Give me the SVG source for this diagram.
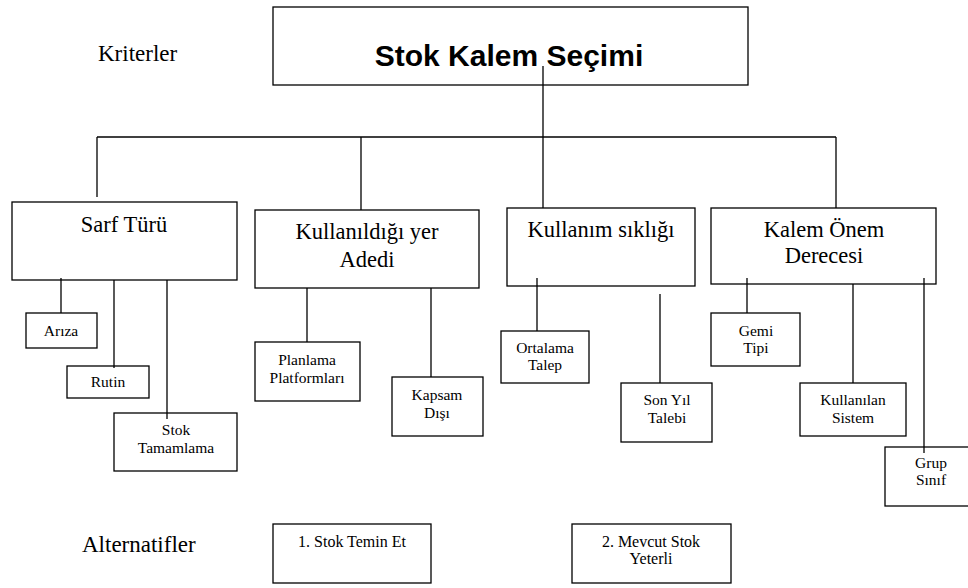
<svg xmlns="http://www.w3.org/2000/svg" width="968" height="588" viewBox="0 0 968 588">
<style>
rect{fill:#fff;stroke:#000;stroke-width:1.3}
line{stroke:#000;stroke-width:1.3}
text{fill:#000;text-anchor:middle;font-family:"Liberation Serif",serif}
.big{font-size:22.5px}
.sm{font-size:15.5px}
.alt{font-size:16px}
.lab{font-size:23px;text-anchor:start}
.title{font-weight:bold;font-size:30px;font-family:"Liberation Sans",sans-serif}
</style>
<rect x="0" y="0" width="968" height="588" style="stroke:none"/>
<text class="lab" x="98" y="61">Kriterler</text>
<text class="lab" x="82" y="552">Alternatifler</text>
<g id="root"><rect x="273" y="7" width="475" height="78"/><text class="title" x="509" y="66">Stok Kalem Seçimi</text></g>
<g id="sarf"><rect x="12" y="202" width="225" height="78"/><text class="big" x="124" y="232">Sarf Türü</text></g>
<g id="kyer"><rect x="255" y="210" width="224" height="78"/><text class="big" x="367" y="239">Kullanıldığı yer</text><text class="big" x="367" y="267">Adedi</text></g>
<g id="ksik"><rect x="507" y="208" width="188" height="78"/><text class="big" x="601" y="237">Kullanım sıklığı</text></g>
<g id="konem"><rect x="711" y="208" width="225" height="76"/><text class="big" x="824" y="237">Kalem Önem</text><text class="big" x="824" y="263">Derecesi</text></g>
<g id="ariza"><rect x="26" y="313" width="71" height="35"/><text class="sm" x="61" y="336">Arıza</text></g>
<g id="rutin"><rect x="67" y="366" width="82" height="32"/><text class="sm" x="108" y="387">Rutin</text></g>
<g id="stoktam"><rect x="114" y="413" width="123" height="58"/><text class="sm" x="176" y="435">Stok</text><text class="sm" x="176" y="453">Tamamlama</text></g>
<g id="plan"><rect x="255" y="342" width="105" height="59"/><text class="sm" x="307" y="365">Planlama</text><text class="sm" x="307" y="383">Platformları</text></g>
<g id="kapsam"><rect x="392" y="377" width="91" height="59"/><text class="sm" x="437" y="400">Kapsam</text><text class="sm" x="437" y="418">Dışı</text></g>
<g id="ort"><rect x="501" y="331" width="88" height="52"/><text class="sm" x="545" y="353">Ortalama</text><text class="sm" x="545" y="370">Talep</text></g>
<g id="sonyil"><rect x="621" y="383" width="91" height="59"/><text class="sm" x="667" y="405">Son Yıl</text><text class="sm" x="667" y="423">Talebi</text></g>
<g id="gemi"><rect x="711" y="313" width="89" height="53"/><text class="sm" x="756" y="336">Gemi</text><text class="sm" x="756" y="353">Tipi</text></g>
<g id="sistem"><rect x="800" y="383" width="106" height="53"/><text class="sm" x="853" y="405">Kullanılan</text><text class="sm" x="853" y="423">Sistem</text></g>
<g id="grup"><rect x="885" y="447" width="90" height="59"/><text class="sm" x="931" y="468">Grup</text><text class="sm" x="931" y="485">Sınıf</text></g>
<g id="alt1"><rect x="273" y="524" width="158" height="59"/><text class="alt" x="352" y="547">1. Stok Temin Et</text></g>
<g id="alt2"><rect x="572" y="524" width="159" height="59"/><text class="alt" x="651" y="547">2. Mevcut Stok</text><text class="alt" x="651" y="564">Yeterli</text></g>
<g id="connectors">
<line x1="543" y1="66" x2="543" y2="208"/>
<line x1="97" y1="137" x2="836" y2="137"/>
<line x1="97" y1="137" x2="97" y2="197"/>
<line x1="361" y1="137" x2="361" y2="210"/>
<line x1="836" y1="137" x2="836" y2="208"/>
<line x1="61" y1="278" x2="61" y2="313"/>
<line x1="114" y1="280" x2="114" y2="368"/>
<line x1="167" y1="280" x2="167" y2="419"/>
<line x1="307" y1="288" x2="307" y2="342"/>
<line x1="431" y1="288" x2="431" y2="377"/>
<line x1="537" y1="278" x2="537" y2="331"/>
<line x1="660" y1="294" x2="660" y2="383"/>
<line x1="747" y1="278" x2="747" y2="313"/>
<line x1="853" y1="284" x2="853" y2="383"/>
<line x1="924" y1="278" x2="924" y2="453"/>
</g>
</svg>
